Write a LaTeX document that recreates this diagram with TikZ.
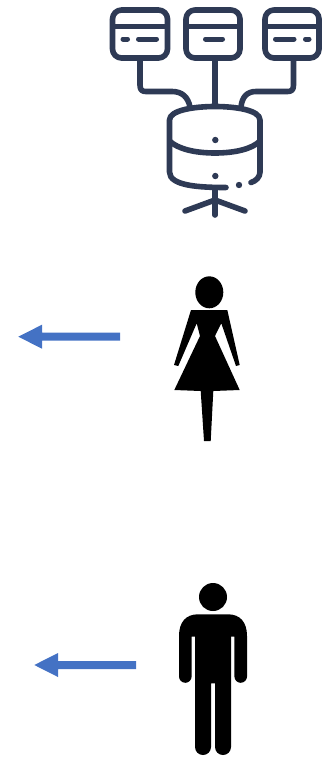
\documentclass[tikz,border=0pt]{standalone}
\definecolor{iconnavy}{HTML}{2E3A55}
\definecolor{arrowblue}{HTML}{4472C4}
\tikzset{
  icon/.style={draw=iconnavy,line width=5.6pt,line cap=round,line join=round},
  iconthin/.style={draw=iconnavy,line width=5pt,line cap=round},
  icondot/.style={fill=iconnavy,draw=none},
  figure/.style={fill=black,draw=none},
  bluearrow/.style={fill=arrowblue,draw=none}
}
\begin{document}
\begin{tikzpicture}[x=1pt,y=-1pt]
\useasboundingbox (0,0) rectangle (335,758);
% servers
\draw[icon,rounded corners=9pt] (112.5,10) rectangle (167.5,58);
\draw[icon,rounded corners=9pt] (186,10) rectangle (240,58);
\draw[icon,rounded corners=9pt] (265,10) rectangle (319,58);
\draw[iconthin,line cap=butt] (112.5,26) -- (167.5,26);
\draw[iconthin,line cap=butt] (186,26) -- (240,26);
\draw[iconthin,line cap=butt] (265,26) -- (319,26);
\draw[iconthin] (123,39) -- (127.5,39);
\draw[iconthin] (138.5,39) -- (156.5,39);
\draw[iconthin] (205.5,39) -- (222.5,39);
\draw[iconthin] (275.5,39) -- (294,39);
\draw[iconthin] (305.5,39) -- (309,39);
% links
\draw[icon,line cap=butt] (140,60) -- (140,85) .. controls (140,90) and (142,91.5) .. (146,91.5) -- (172,91.5) .. controls (182,91.5) and (188,97) .. (190,107);
\draw[icon,line cap=butt] (215,60) -- (215,106);
\draw[icon,line cap=butt] (293.5,60) -- (293.5,85) .. controls (293.5,90) and (291.5,91.5) .. (287.5,91.5) -- (256,91.5) .. controls (247,91.5) and (242,97) .. (241,107);
% cylinder
\draw[icon] (226,187.5) .. controls (200,187.5) and (169.5,186) .. (169.5,172) -- (169.5,120) .. controls (169.5,110) and (195,106.5) .. (215,106.5) .. controls (235,106.5) and (260,110) .. (260,120) -- (260,172) .. controls (260,177) and (256,181) .. (251,182.5);
\draw[icon,line cap=butt] (169.5,141) .. controls (178,149) and (195,153) .. (215,153) .. controls (235,153) and (252,149) .. (260,141);
\fill[icondot] (215.3,140) circle (3.2pt);
\fill[icondot] (215.3,176) circle (3.2pt);
\fill[icondot] (239,185) circle (3.2pt);
% stand
\draw[icon] (215,188) -- (215,215);
\draw[icon] (215,200) -- (185,211);
\draw[icon] (215,200) -- (245,211);
% woman
\fill[figure] (209.3,292.3) ellipse (14pt and 16pt);
\fill[figure] (191,310) -- (227.3,310) -- (239.7,365) -- (236,366) -- (221.3,323.3) -- (215,336) -- (239.7,390) -- (213.3,391) -- (210.7,441) -- (204,441) -- (200.7,391) -- (174.3,390) -- (200,336) -- (196.7,323.3) -- (178.3,366) -- (174,365) -- cycle;
% man
\fill[figure] (213,597) circle (14pt);
\fill[figure] (195,625) -- (231,625) -- (231,747)
  arc[start angle=0,end angle=-180,radius=8pt] -- (215,683.3) -- (211,683.3) -- (211,747)
  arc[start angle=0,end angle=-180,radius=8pt] -- cycle;
\fill[figure] (179,636) .. controls (179,622) and (186,614.3) .. (198,614.3) -- (228,614.3) .. controls (240,614.3) and (247,622) .. (247,636) -- (247,676.5) arc[start angle=0,end angle=-180,radius=6.3pt] -- (234.4,636.7) -- (191.6,636.7) -- (191.6,676.5) arc[start angle=0,end angle=-180,radius=6.3pt] -- cycle;
% arrows
\fill[bluearrow] (120,332.7) -- (42,332.7) -- (42,324.7) -- (18.3,336.7) -- (42,348.7) -- (42,340.7) -- (120,340.7) -- cycle;
\fill[bluearrow] (136,661) -- (58,661) -- (58,653) -- (34.3,665) -- (58,677) -- (58,669) -- (136,669) -- cycle;
\end{tikzpicture}
\end{document}
